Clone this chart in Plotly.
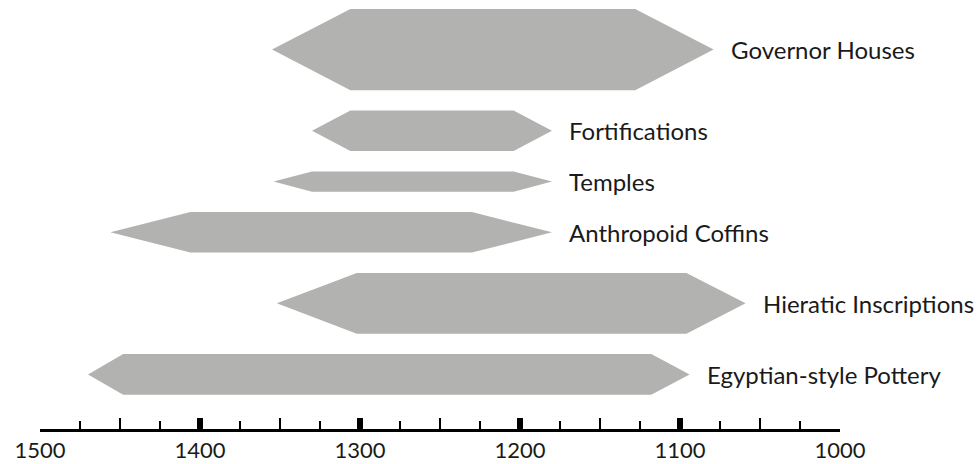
import plotly.graph_objects as go

# ---- data ----
categories = ["Governor Houses", "Fortifications", "Temples",
              "Anthropoid Coffins", "Hieratic Inscriptions", "Egyptian-style Pottery"]
start_year = [1355, 1330, 1354, 1456, 1352, 1470]
full_start = [1306, 1306, 1330, 1406, 1302, 1448]
full_end = [1128, 1204, 1204, 1230, 1096, 1118]
end_year = [1079, 1180, 1180, 1180, 1059, 1094]
thickness = [4, 2, 1, 2, 3, 2]
major_ticks = [1500, 1400, 1300, 1200, 1100, 1000]
mid_ticks = [1450, 1350, 1250, 1150, 1050]

ROW_GAP = 1
FILL = "#b2b2b0"
FONT = "Lato"

fig = go.Figure()
cursor = 0
for i, name in enumerate(categories):
    t = thickness[i]
    c = cursor + t / 2
    cursor += t + ROW_GAP
    xs = [start_year[i], full_start[i], full_end[i], end_year[i],
          full_end[i], full_start[i], start_year[i]]
    ys = [c, c - t / 2, c - t / 2, c, c + t / 2, c + t / 2, c]
    fig.add_trace(go.Scatter(x=xs, y=ys, mode="lines", fill="toself",
                             fillcolor=FILL, line=dict(width=0, color=FILL),
                             hoverinfo="skip", showlegend=False, name=name))
    fig.add_annotation(x=end_year[i], y=c, text=name, showarrow=False,
                       xanchor="left", yanchor="middle", xshift=15,
                       font=dict(family=FONT, size=24, color="#1a1a1a"))

# invisible trace for second x axis
fig.add_trace(go.Scatter(x=[1500, 1000], y=[0, 0], mode="markers",
                         marker=dict(opacity=0), xaxis="x2",
                         hoverinfo="skip", showlegend=False))

fig.update_layout(
    width=980, height=464,
    margin=dict(l=40, r=140, t=9, b=35, autoexpand=False),
    paper_bgcolor="white", plot_bgcolor="white",
    xaxis=dict(range=[1500, 1000], showgrid=False, zeroline=False,
               automargin=False,
               showline=True, linecolor="black", linewidth=3,
               tickmode="array", tickvals=major_ticks,
               ticktext=[str(v) for v in major_ticks],
               ticks="inside", ticklen=11, tickwidth=6, tickcolor="black",
               tickfont=dict(family=FONT, size=22, color="#1a1a1a"),
               minor=dict(dtick=25, ticks="inside", ticklen=8, tickwidth=2,
                          tickcolor="black", showgrid=False)),
    xaxis2=dict(range=[1500, 1000], overlaying="x", anchor="y", side="bottom",
                showgrid=False, zeroline=False, showline=False, automargin=False,
                tickmode="array", tickvals=mid_ticks, showticklabels=False,
                ticks="inside", ticklen=11, tickwidth=2, tickcolor="black"),
    yaxis=dict(range=[20.69, 0], visible=False, showgrid=False, zeroline=False,
               automargin=False),
)

fig.write_html("out.html",
               config={"displayModeBar": False, "staticPlot": True},
               post_script="document.body.style.margin='0';document.body.style.overflow='hidden';")
